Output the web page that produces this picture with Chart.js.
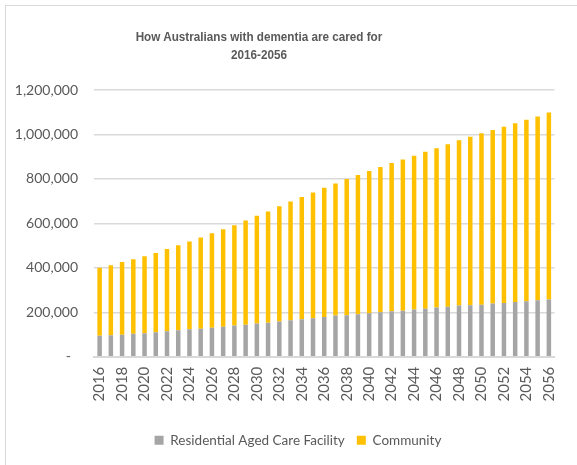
<!DOCTYPE html>
<html>
<head>
<meta charset="utf-8">
<title>How Australians with dementia are cared for</title>
<script src="https://cdn.jsdelivr.net/npm/chart.js@4"></script>
<style>
    html, body { margin: 0; padding: 0; background: #ffffff; }
    #frame { position: relative; width: 577px; height: 465px; overflow: hidden; }
    #border {
        position: absolute; left: 5px; top: 5px; width: 600px; height: 500px;
        border: 1px solid #d9d9d9; box-sizing: border-box;
    }
    #title {
        position: absolute; left: 0; top: 28px; width: 518px; text-align: center;
        font: bold 13px "Liberation Sans", Arial, sans-serif; color: #595959; line-height: 18px;
        transform: scaleX(0.9); transform-origin: 259px 0;
    }
    canvas { position: absolute; left: 0; top: 0; }
</style>
</head>
<body>
<div id="frame">
    <div id="border"></div>
    <canvas id="careChart" width="577" height="465"></canvas>
    <div id="title">How Australians with dementia are cared for<br>2016-2056</div>
</div>
<script>
var years = [
    '2016', '2017', '2018', '2019', '2020', '2021', '2022', '2023', '2024', '2025',
    '2026', '2027', '2028', '2029', '2030', '2031', '2032', '2033', '2034', '2035',
    '2036', '2037', '2038', '2039', '2040', '2041', '2042', '2043', '2044', '2045',
    '2046', '2047', '2048', '2049', '2050', '2051', '2052', '2053', '2054', '2055', '2056'
];

// people in residential aged care
var residential = [
    94000, 97000, 99000, 103000, 105000, 110000, 114000, 119000, 123000, 126000,
    130000, 135000, 140000, 144000, 149000, 153000, 158000, 164000, 168000, 173000,
    179000, 185000, 186000, 191000, 195000, 200000, 204000, 207000, 212000, 216000,
    221000, 225000, 230000, 231000, 234000, 239000, 242000, 246000, 249000, 254000, 257000
];

// people living in the community
var community = [
    306000, 315000, 327000, 335000, 347000, 357000, 371000, 382000, 395000, 410000,
    425000, 438000, 452000, 469000, 485000, 500000, 519000, 534000, 551000, 566000,
    581000, 594000, 613000, 626000, 640000, 653000, 667000, 680000, 692000, 706000,
    717000, 731000, 744000, 759000, 771000, 781000, 793000, 804000, 817000, 827000, 842000
];

var yTicks = { min: 0, max: 1200000, step: 200000 };

(function (window) {
    'use strict';

    var textColor = '#595959';
    var gridColor = '#d9d9d9';
    var numberFormatter = new Intl.NumberFormat('en-US');

    // nudge the legend a little right, like the original
    var legendShift = {
        id: 'legendShift',
        afterLayout: function (chart) {
            if (chart.legend) {
                chart.legend.left += 8;
                chart.legend.right += 8;
            }
        }
    };

    function createCareChart(canvas) {
        return new Chart(canvas, {
            type: 'bar',
            data: {
                labels: years,
                datasets: [{
                    label: 'Residential Aged Care Facility',
                    data: residential,
                    backgroundColor: '#a5a5a5',
                    barPercentage: 0.4,
                    categoryPercentage: 1
                }, {
                    label: 'Community',
                    data: community,
                    backgroundColor: '#ffc000',
                    barPercentage: 0.4,
                    categoryPercentage: 1
                }]
            },
            plugins: [legendShift],
            options: {
                responsive: false,
                animation: false,
                layout: {
                    padding: { top: 90, left: 14, right: 11, bottom: 8 }
                },
                plugins: {
                    title: { display: false },
                    tooltip: { enabled: false },
                    legend: {
                        position: 'bottom',
                        labels: {
                            color: textColor,
                            boxWidth: 9,
                            boxHeight: 9,
                            padding: 12,
                            font: { family: 'Lato', size: 13.5 }
                        }
                    }
                },
                scales: {
                    x: {
                        stacked: true,
                        afterFit: function (scale) { scale.height += 10; },
                        grid: { display: false, drawTicks: false },
                        border: { display: true, color: gridColor, width: 2 },
                        ticks: {
                            autoSkip: false,
                            minRotation: 90,
                            maxRotation: 90,
                            padding: 10,
                            color: textColor,
                            font: { family: 'Lato', size: 15 },
                            callback: function (value, index) {
                                return index % 2 === 0 ? this.getLabelForValue(value) : '';
                            }
                        }
                    },
                    y: {
                        stacked: true,
                        min: yTicks.min,
                        max: yTicks.max,
                        afterFit: function (scale) { scale.width = 80; },
                        grid: { color: gridColor, lineWidth: 1.5, drawTicks: false },
                        border: { display: false },
                        ticks: {
                            stepSize: yTicks.step,
                            padding: 16,
                            color: textColor,
                            font: { family: 'Lato', size: 14 },
                            callback: function (value) {
                                return value === 0 ? '-  ' : numberFormatter.format(value);
                            }
                        }
                    }
                }
            }
        });
    }

    createCareChart(document.getElementById('careChart'));
})(window);
</script>
</body>
</html>
